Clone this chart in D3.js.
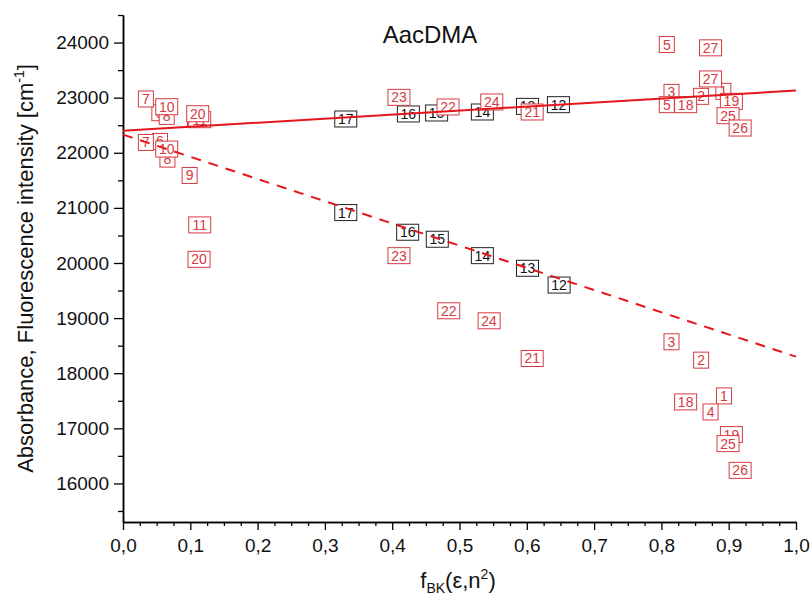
<!DOCTYPE html>
<html>
<head>
<meta charset="utf-8">
<script src="https://cdn.jsdelivr.net/npm/d3@7"></script>
<style>
  body { margin: 0; background: #fff; }
  svg text { font-family: "Liberation Sans", Arial, sans-serif; }
</style>
</head>
<body>
<div id="chart"></div>
<script>
// solvent labels, f_BK values and band positions (cm-1)
const absLabels = [1, 2, 3, 5, 6, 7, 8, 9, 10, 11, 12, 13, 14, 15, 16, 17, 18, 19, 20, 21, 22, 23, 24, 25, 26, 27];
const absX = [0.892, 0.859, 0.815, 0.808, 0.054, 0.034, 0.065, 0.107, 0.065, 0.114, 0.647, 0.601, 0.534, 0.466, 0.424, 0.331, 0.836, 0.904, 0.111, 0.608, 0.483, 0.410, 0.548, 0.899, 0.917, 0.873];
const absY = [23115, 23024, 23096, 22873, 22727, 22976, 22660, 22636, 22836, 22600, 22873, 22842, 22740, 22722, 22704, 22613, 22873, 22933, 22709, 22740, 22831, 23006, 22922, 22673, 22449, 23340];

const fluLabels = [1, 2, 3, 4, 5, 6, 7, 8, 9, 10, 11, 12, 13, 14, 15, 16, 17, 18, 19, 20, 21, 22, 23, 24, 25, 26, 27];
const fluX = [0.893, 0.859, 0.815, 0.873, 0.808, 0.055, 0.034, 0.066, 0.099, 0.065, 0.114, 0.648, 0.601, 0.534, 0.467, 0.423, 0.331, 0.836, 0.904, 0.113, 0.608, 0.484, 0.410, 0.544, 0.899, 0.917, 0.873];
const fluY = [17588, 18237, 18570, 17297, 23964, 22206, 22187, 21885, 21588, 22067, 20691, 19600, 19904, 20133, 20431, 20558, 20915, 17479, 16886, 20067, 18267, 19133, 20133, 18951, 16722, 16237, 23904];

// solvents drawn in black
const blackSet = [12, 13, 14, 15, 16, 17];

// linear fits
const fitX = [0, 1];
const absFit = [22400, 23130];
const fluFit = [22330, 18300];

const xTicks = [0, 0.1, 0.2, 0.3, 0.4, 0.5, 0.6, 0.7, 0.8, 0.9, 1.0];
const yTicks = [16000, 17000, 18000, 19000, 20000, 21000, 22000, 23000, 24000];

const width = 811, height = 601;
const margin = {left: 123, right: 15, top: 15, bottom: 79};

const svg = d3.select('#chart').append('svg')
  .attr('width', width).attr('height', height);

const x = d3.scaleLinear().domain([0, 1]).range([margin.left, width - margin.right]);
const y = d3.scaleLinear().domain([15300, 24500]).range([height - margin.bottom, margin.top]);

const red = '#d63a42';
const lineRed = '#e4161c';
const comma = d => d3.format('.1f')(d).replace('.', ',');

// axes
const xMinor = d3.range(0, 1.0001, 0.025).filter(v => Math.abs(v * 10 - Math.round(v * 10)) > 1e-6);
const yMinor = d3.range(15500, 24501, 500).filter(v => v % 1000 !== 0);

svg.append('g').attr('transform', 'translate(0,' + y.range()[0] + ')')
  .call(d3.axisBottom(x).tickValues(xMinor).tickFormat('').tickSize(4).tickSizeOuter(0));
svg.append('g').attr('transform', 'translate(0,' + y.range()[0] + ')')
  .call(d3.axisBottom(x).tickValues(xTicks).tickFormat(comma).tickSize(8).tickSizeOuter(0).tickPadding(9));

svg.append('g').attr('transform', 'translate(' + margin.left + ',0)')
  .call(d3.axisLeft(y).tickValues(yMinor).tickFormat('').tickSize(5).tickSizeOuter(0));
svg.append('g').attr('transform', 'translate(' + margin.left + ',0)')
  .call(d3.axisLeft(y).tickValues(yTicks).tickFormat(d3.format('d')).tickSize(9).tickSizeOuter(0).tickPadding(5));

svg.selectAll('.domain').attr('stroke', '#000').attr('stroke-width', 1.5);
svg.selectAll('.tick line').attr('stroke', '#000').attr('stroke-width', 1.3);
svg.selectAll('.tick text').attr('font-size', 19).attr('fill', '#111')
  .attr('font-family', '"Liberation Sans", Arial, sans-serif');

// labelled boxes
function drawPoints(labels, xs, ys) {
  const data = labels.map((l, i) => ({label: l, x: xs[i], y: ys[i]}));
  const g = svg.append('g');
  const pt = g.selectAll('g').data(data).enter().append('g')
    .attr('transform', d => 'translate(' + x(d.x) + ',' + y(d.y) + ')');
  pt.append('rect')
    .attr('x', d => String(d.label).length > 1 ? -11 : -7.5)
    .attr('y', -8)
    .attr('width', d => String(d.label).length > 1 ? 22 : 15)
    .attr('height', 16)
    .attr('fill', '#fff')
    .attr('stroke', d => blackSet.includes(d.label) ? '#222' : red)
    .attr('stroke-width', 1);
  pt.append('text')
    .attr('text-anchor', 'middle')
    .attr('y', 5)
    .attr('font-size', 14)
    .attr('font-family', '"Liberation Serif", "Times New Roman", serif')
    .attr('fill', d => blackSet.includes(d.label) ? '#111' : red)
    .text(d => d.label);
}
drawPoints(fluLabels, fluX, fluY);
drawPoints(absLabels, absX, absY);

// fit lines
const line = d3.line().x(d => x(d[0])).y(d => y(d[1]));
svg.append('path').datum(fitX.map((v, i) => [v, absFit[i]]))
  .attr('d', line).attr('fill', 'none').attr('stroke', lineRed).attr('stroke-width', 2);
svg.append('path').datum(fitX.map((v, i) => [v, fluFit[i]]))
  .attr('d', line).attr('fill', 'none').attr('stroke', lineRed).attr('stroke-width', 2)
  .attr('stroke-dasharray', '10,8');

// titles
svg.append('text').attr('x', 430).attr('y', 43).attr('text-anchor', 'middle')
  .attr('font-size', 24).attr('fill', '#111').text('AacDMA');

const yl = svg.append('text')
  .attr('transform', 'translate(33,' + (y.range()[0] + y.range()[1]) / 2 + ') rotate(-90)')
  .attr('text-anchor', 'middle').attr('font-size', 22).attr('fill', '#111');
yl.append('tspan').text('Absorbance, Fluorescence intensity [cm');
yl.append('tspan').attr('font-size', 14).attr('dy', -9).text('-1');
yl.append('tspan').attr('dy', 9).text(']');

const xl = svg.append('text').attr('x', 458).attr('y', 588)
  .attr('text-anchor', 'middle').attr('font-size', 22).attr('fill', '#111');
xl.append('tspan').text('f');
xl.append('tspan').attr('font-size', 14).attr('dy', 5).text('BK');
xl.append('tspan').attr('dy', -5).text('(ε,n');
xl.append('tspan').attr('font-size', 14).attr('dy', -9).text('2');
xl.append('tspan').attr('dy', 9).text(')');
</script>
</body>
</html>
